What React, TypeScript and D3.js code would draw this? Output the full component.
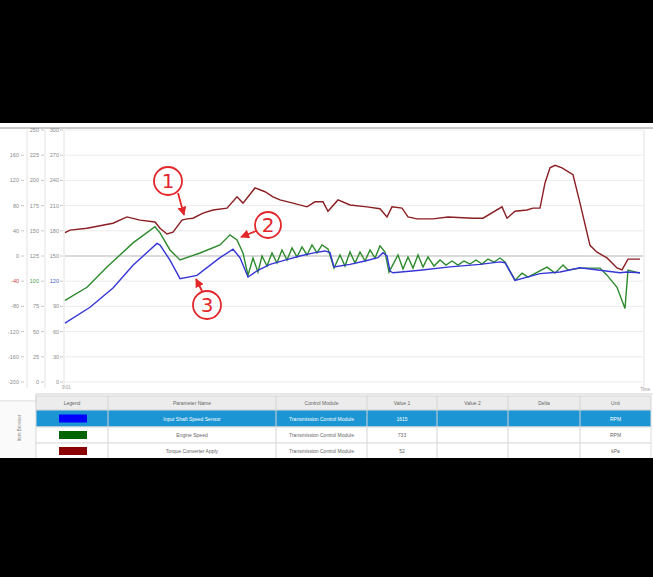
import React from 'react';
import * as d3 from 'd3';

const W = 653;
const H = 577;

// time (s) and values for each series
const redT = [0,1,4.4,7,9.6,12.4,15,18,19,20.4,21.6,23.4,24.4,25.6,27.6,29.6,32.4,34.4,35.6,38,40,41.6,43,45.6,48.4,50,51.6,52.6,54.6,57,60.4,63,64.4,65.4,67.4,68.6,70.4,73.6,76.6,81.6,83.6,87.4,88.4,90,92.4,93.6,95,96,97,98,99.4,101.6,103,105,106.4,108.4,110.4,111.4,112.6,115];
const redV = [37,41,44,48,52,62,57,54,44,35,38,57,59,60,68,73,76,94,84,108,102,94,89,84,78,86,86,71,89,81,78,75,62,78,76,62,59,59,62,60,60,78,60,71,73,76,76,116,140,144,140,129,84,17,6,-3,-19,-22,-5,-5];

const greenT = [0,4.4,8.4,13.6,18,19,21,23,27,31,33,34.4,35.6,36.6,37.6,38.6,39.4,40.4,41.4,42.4,43.4,44.4,45.4,46.4,47.4,48.4,49.4,50.4,51.4,52.6,53.8,55,56,57,58,59,60,61,62,63,64,64.8,66.6,67.6,68.6,69.6,70.6,71.6,72.6,73.8,75,76.2,77.4,78.6,79.8,81,82.2,83.4,84.6,85.8,87,88,90,91.4,92.6,96.4,98,99.6,100.6,103,107,108.4,110.4,112,112.6,115];
const greenV = [81,94,114,138,154,148,131,121,128,136,146,141,128,106,123,109,125,115,128,118,131,121,133,124,134,126,136,128,136,132,113,126,115,129,118,129,120,131,123,135,129,109,126,112,124,113,126,114,124,115,121,116,120,116,120,117,121,117,122,119,123,119,101,108,104,114,108,116,111,113,113,106,94,73,111,108];

const blueT = [0,5,9.6,13.6,18.4,19,21,23,26.4,31,33.6,35,36.6,38.6,41,44,47,50,52,53,53.8,57,60,62.6,63.6,64.4,65,65.6,71,77,83,87,88,90,95,99,103,107,111,112.4,115];
const blueV = [70,89,112,139,165,163,145,123,127,148,158,148,125,133,140,145,150,154,156,154,137,140,144,148,154,150,132,130,133,137,140,143,142,121,129,131,136,133,130,131,130];

const redTicks = [-200,-160,-120,-80,-40,0,40,80,120,160];
const greenTicks = [0,25,50,75,100,125,150,175,200,225,250];
const blueTicks = [0,30,60,90,120,150,180,210,240,270,300];
const cursorRed = -40;
const cursorGreen = 100;
const cursorBlue = 120;

const tableHeaders = ['Legend','Parameter Name','Control Module','Value 1','Value 2','Delta','Unit'];
const rowNames = ['Input Shaft Speed Sensor','Engine Speed','Torque Converter Apply'];
const rowModules = ['Transmission Control Module','Transmission Control Module','Transmission Control Module'];
const rowValues = ['1615','733','52'];
const rowUnits = ['RPM','RPM','kPa'];
const rowColors = ['#0000ff','#006400','#8b0000'];

const RED = '#8b1e22';
const GREEN = '#2c8a2c';
const BLUE = '#3636d8';
const ANN = '#e3262a';

export default function App() {
  const x = d3.scaleLinear().domain([0, 115]).range([65, 640]);
  const yRed = d3.scaleLinear().domain([-200, 200]).range([382, 130]);
  const yGreen = d3.scaleLinear().domain([0, 250]).range([382, 130]);
  const yBlue = d3.scaleLinear().domain([0, 300]).range([382, 130]);

  const mk = (ts: number[], vs: number[], ys: any) =>
    d3.line<[number, number]>().x(d => x(d[0])).y(d => ys(d[1]))(d3.zip(ts, vs) as any) || '';

  const colX = [36, 108, 276, 367, 437, 508, 580, 651];
  const headerY = 396, headerH = 14;
  const rowY = [410, 427, 443];
  const rowH = [17, 16, 16];
  const font = 'Liberation Sans, Arial, sans-serif';

  return (
    <svg width={W} height={H} style={{ position: 'absolute', left: 0, top: 0, background: '#fff' }} fontFamily={font}>
      <defs>
        <marker id="ah" viewBox="0 0 10 10" refX="9" refY="5" markerWidth="5" markerHeight="5" orient="auto">
          <path d="M0,0 L10,5 L0,10 z" fill={ANN} />
        </marker>
      </defs>
      <rect x={0} y={0} width={W} height={H} fill="#fff" />
      {/* top border line */}
      <line x1={0} x2={W} y1={128} y2={128} stroke="#c8c8c8" strokeWidth={2} />
      {/* gridlines */}
      {blueTicks.map(t => (
        <line key={'g' + t} x1={65} x2={643} y1={yBlue(t)} y2={yBlue(t)}
          stroke={t === 150 ? '#b5b5b5' : '#ececec'} strokeWidth={1} />
      ))}
      {/* axis lines */}
      {[27, 45, 64, 644].map(v => (
        <line key={'a' + v} x1={v} x2={v} y1={130} y2={388} stroke="#e2e2e2" strokeWidth={1} />
      ))}
      {/* axis labels */}
      {redTicks.map(t => (
        <g key={'r' + t}>
          <text x={19} y={yRed(t) + 2} fontSize={5.5} textAnchor="end" fill={t === cursorRed ? '#d04040' : '#8a8a8a'}>{t}</text>
          <line x1={21} x2={24} y1={yRed(t)} y2={yRed(t)} stroke="#c8c8c8" />
        </g>
      ))}
      {greenTicks.map(t => (
        <g key={'gr' + t}>
          <text x={39} y={yGreen(t) + 2} fontSize={5.5} textAnchor="end" fill={t === cursorGreen ? '#48a048' : '#8a8a8a'}>{t}</text>
          <line x1={41} x2={44} y1={yGreen(t)} y2={yGreen(t)} stroke="#c8c8c8" />
        </g>
      ))}
      {blueTicks.map(t => (
        <g key={'b' + t}>
          <text x={59} y={yBlue(t) + 2} fontSize={5.5} textAnchor="end" fill={t === cursorBlue ? '#4060d0' : '#8a8a8a'}>{t}</text>
          <line x1={60} x2={63} y1={yBlue(t)} y2={yBlue(t)} stroke="#c8c8c8" />
        </g>
      ))}
      <text x={62} y={389} fontSize={4.5} fill="#999">0:01</text>
      <text x={650} y={391} fontSize={4.5} textAnchor="end" fill="#999">Time</text>

      {/* series */}
      <path d={mk(redT, redV, yRed)} fill="none" stroke={RED} strokeWidth={1.4} />
      <path d={mk(greenT, greenV, yGreen)} fill="none" stroke={GREEN} strokeWidth={1.4} />
      <path d={mk(blueT, blueV, yBlue)} fill="none" stroke={BLUE} strokeWidth={1.4} />

      {/* annotations */}
      <g stroke={ANN} fill="none" strokeWidth={1.8}>
        <circle cx={168} cy={181} r={14} />
        <line x1={178} y1={193} x2={184} y2={215} markerEnd="url(#ah)" />
        <circle cx={268} cy={225} r={13} />
        <line x1={256} y1={231} x2={241} y2={237} markerEnd="url(#ah)" />
        <circle cx={207} cy={305} r={14} />
        <line x1={202} y1={291} x2={196} y2={279} markerEnd="url(#ah)" />
      </g>
      <g fill={ANN} fontSize={20} textAnchor="middle" fontFamily="DejaVu Sans, sans-serif">
        <text x={168} y={188}>1</text>
        <text x={268} y={232}>2</text>
        <text x={207} y={312}>3</text>
      </g>

      {/* bottom separator & left panel */}
      <line x1={36} x2={W} y1={394} y2={394} stroke="#d0d0d0" />
      <line x1={0} x2={36} y1={401} y2={401} stroke="#d0d0d0" />
      <line x1={36} x2={36} y1={394} y2={460} stroke="#d0d0d0" />
      <rect x={0} y={401.5} width={35.5} height={60} fill="#fafafa" />
      <text transform="translate(21,428) rotate(-90)" fontSize={4.5} textAnchor="middle" fill="#888">Item Browser</text>

      {/* table header */}
      <rect x={colX[0]} y={headerY} width={colX[7] - colX[0]} height={headerH} fill="#ececec" stroke="#d5d5d5" />
      {tableHeaders.map((h, i) => (
        <text key={h} x={(colX[i] + colX[i + 1]) / 2} y={headerY + 9} fontSize={5} textAnchor="middle" fill="#666">{h}</text>
      ))}
      {rowNames.map((n, r) => (
        <g key={n}>
          <rect x={colX[0]} y={rowY[r]} width={colX[7] - colX[0]} height={rowH[r]}
            fill={r === 0 ? '#1b95d3' : '#fff'} stroke="#dcdcdc" />
          <rect x={59} y={rowY[r] + rowH[r] / 2 - 4} width={28} height={8} fill={rowColors[r]} />
          <text x={(colX[1] + colX[2]) / 2} y={rowY[r] + rowH[r] / 2 + 2} fontSize={5} textAnchor="middle" fill={r === 0 ? '#fff' : '#666'}>{n}</text>
          <text x={(colX[2] + colX[3]) / 2} y={rowY[r] + rowH[r] / 2 + 2} fontSize={5} textAnchor="middle" fill={r === 0 ? '#fff' : '#666'}>{rowModules[r]}</text>
          <text x={(colX[3] + colX[4]) / 2} y={rowY[r] + rowH[r] / 2 + 2} fontSize={5} textAnchor="middle" fill={r === 0 ? '#fff' : '#666'}>{rowValues[r]}</text>
          <text x={(colX[6] + colX[7]) / 2} y={rowY[r] + rowH[r] / 2 + 2} fontSize={5} textAnchor="middle" fill={r === 0 ? '#fff' : '#666'}>{rowUnits[r]}</text>
        </g>
      ))}
      {colX.slice(1, 7).map(c => (
        <line key={'c' + c} x1={c} x2={c} y1={headerY} y2={460} stroke="#d5d5d5" />
      ))}

      {/* letterbox */}
      <rect x={0} y={0} width={W} height={123} fill="#000" />
      <rect x={0} y={458} width={W} height={H - 458} fill="#000" />
    </svg>
  );
}
